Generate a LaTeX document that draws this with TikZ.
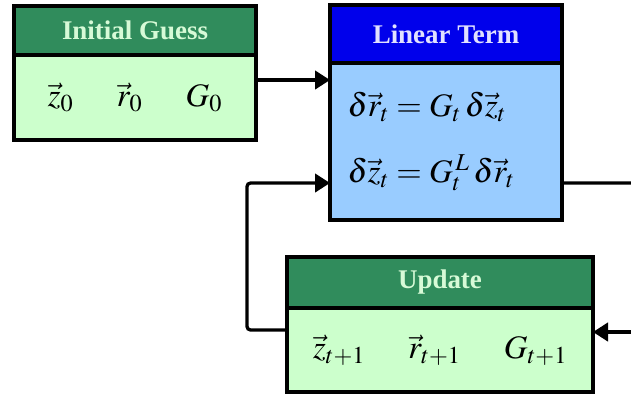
\documentclass[tikz,border=0pt]{standalone}
\usepackage{mathptmx}
\usepackage{fontspec}
\setmainfont{Liberation Serif}
\usetikzlibrary{positioning,arrows.meta}

\definecolor{hdgreen}{RGB}{48,140,92}
\definecolor{bdgreen}{RGB}{204,255,204}
\definecolor{hdblue}{RGB}{0,0,235}
\definecolor{bdblue}{RGB}{153,204,255}
\definecolor{hdtextg}{RGB}{215,250,215}
\definecolor{hdtextb}{RGB}{225,225,255}

\begin{document}
\begin{tikzpicture}[>={Triangle[length=0.45cm,width=0.55cm]},
  head/.style={draw, line width=3pt, outer sep=0pt, inner sep=0pt,
    font=\fontsize{23}{27}\selectfont\bfseries},
  body/.style={draw, line width=3pt, outer sep=0pt, inner sep=0pt,
    font=\fontsize{28}{34}\selectfont},
  link/.style={line width=2.8pt}]

  \useasboundingbox (0,0) rectangle (18.93,-11.91);

  % initial guess
  \node[head, fill=hdgreen, text=hdtextg, minimum width=7.26cm, minimum height=1.47cm] (ighead) at (4.05,-0.915) {Initial Guess};
  \node[body, fill=bdgreen, minimum width=7.26cm, minimum height=2.55cm, below=0pt of ighead] (igbody)
    {$\vec z_0$\hspace{1.3cm}$\vec r_0$\hspace{1.3cm}$G_0$};

  % linear term
  \node[head, fill=hdblue, text=hdtextb, minimum width=6.96cm, minimum height=1.74cm] (lthead) at (13.38,-1.02) {Linear Term};
  \node[body, fill=bdblue, minimum width=6.96cm, minimum height=4.71cm, text width=5.9cm, align=left, below=0pt of lthead] (ltbody)
    {$\delta\vec r_t = G_t\,\delta\vec z_t$\\[0.78cm]$\delta\vec z_t = G_t^{\,L}\,\delta\vec r_t$};

  % update
  \node[head, fill=hdgreen, text=hdtextg, minimum width=9.18cm, minimum height=1.53cm] (uphead) at (13.2,-8.475) {Update};
  \node[body, fill=bdgreen, minimum width=9.18cm, minimum height=2.52cm, below=0pt of uphead] (upbody)
    {$\vec z_{t+1}$\hspace{1.3cm}$\vec r_{t+1}$\hspace{1.3cm}$G_{t+1}$};

  % connectors
  \coordinate (igout) at ([yshift=0.525cm]igbody.east);
  \coordinate (ltin) at ([yshift=-1.245cm]ltbody.west);
  \coordinate (ltout) at ([yshift=-1.245cm]ltbody.east);
  \coordinate (upout) at ([yshift=0.6cm]upbody.west);
  \coordinate (rightout) at (18.93,-5.49);
  \coordinate (rightin) at (18.93,-9.96);

  \draw[link,->] (igout) -- (igout -| ltbody.west);
  \draw[link,->,rounded corners=3pt] (upout) -- ++(-1.2,0) |- (ltin);
  \draw[link] (ltout) -- (rightout);
  \draw[link,->] (rightin) -- (rightin -| upbody.east);
\end{tikzpicture}
\end{document}
